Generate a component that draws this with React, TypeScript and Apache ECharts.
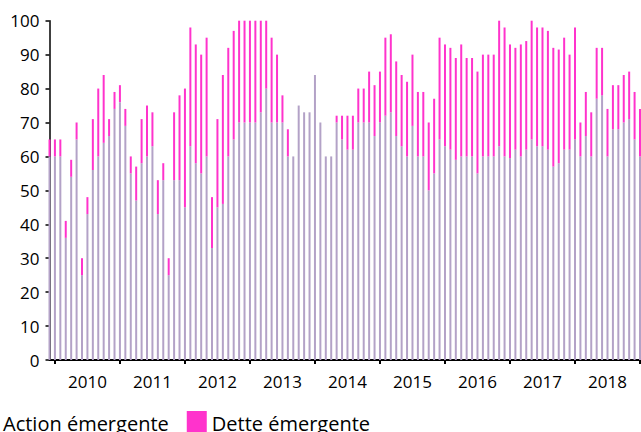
import React, { useEffect, useRef } from "react";
import * as echarts from "echarts";

// Monthly categories: Dec 2009 .. Jan 2019
const startYear = 2009;
const startMonth = 12;
const monthCount = 110;
const categories: string[] = [];
for (let i = 0; i < monthCount; i++) {
  const m0 = startMonth - 1 + i;
  const y = startYear + Math.floor(m0 / 12);
  const m = (m0 % 12) + 1;
  categories.push(`${y}-${m < 10 ? "0" + m : m}`);
}

const seriesNames = ["Action émergente", "Dette émergente"];

const actionEmergente = [
  60, 60, 60, 36, 54, 65, 25, 43, 56, 60, 64, 66, 74, 76, 69, 55, 47, 58,
  60, 63, 43, 53, 25, 53, 53, 45, 63, 58, 55, 60, 33, 45, 46, 60, 65, 70,
  70, 70, 70, 73, 80, 70, 70, 70, 60, 60, 75, 73, 73, 84, 70, 60, 60, 70,
  65, 62, 62, 70, 70, 70, 66, 70, 72, 73, 66, 63, 60, 69, 60, 60, 50, 55,
  65, 63, 62, 59, 60, 60, 60, 55, 60, 60, 60, 63, 60, 59.5, 62, 60, 62, 65,
  63, 63, 62, 57, 58, 62, 62, 65, 60, 66, 60, 77, 78, 60, 68, 68, 70, 71, 65, 60,
];

const detteEmergente = [
  5, 5, 5, 5, 5, 5, 5, 5, 15, 20, 20, 5, 5, 5, 5, 5, 10, 13,
  15, 10, 10, 5, 5, 20, 25, 35, 35, 35, 35, 35, 15, 26, 38, 32, 32, 30,
  30, 30, 30, 27, 20, 25, 20, 8, 8, 0, 0, 0, 0, 0, 0, 0, 0, 2,
  7, 10, 10, 10, 10, 15, 15, 15, 23, 23, 22, 21, 22, 21, 19, 19, 20, 22,
  30, 30, 30, 30, 33, 29, 29, 30, 30, 30, 30, 37, 38, 33.5, 30, 33, 32, 35,
  35, 35, 35, 35, 33.5, 33, 28, 33, 10, 13, 13, 15, 14, 14, 13, 13, 14, 14, 14, 14,
];

const yTicks = { min: 0, max: 100, interval: 10 };

const FONT = "'Open Sans', sans-serif";

export default function App() {
  const ref = useRef<HTMLDivElement>(null);
  useEffect(() => {
    if (!ref.current) return;
    const chart = echarts.init(ref.current, null, { renderer: "svg" });
    chart.setOption({
      animation: false,
      grid: { left: 49.5, right: 1, top: 20.7, bottom: 72, containLabel: false },
      legend: {
        data: seriesNames,
        left: -22,
        top: 411,
        padding: 0,
        itemWidth: 20,
        itemHeight: 24,
        itemGap: 18,
        icon: "rect",
        textStyle: { fontFamily: FONT, fontSize: 20, color: "#000", padding: [6, 0, 0, 0] },
      },
      xAxis: {
        type: "category",
        data: categories,
        boundaryGap: false,
        axisLine: { show: true, lineStyle: { color: "#000", width: 2 } },
        axisTick: {
          show: true,
          length: 4,
          interval: (index: number) => index % 12 === 1,
          lineStyle: { color: "#000", width: 2 },
        },
        axisLabel: {
          interval: (index: number) => index % 12 === 7,
          formatter: (v: string) => v.slice(0, 4),
          fontFamily: FONT,
          fontSize: 17,
          color: "#000",
          margin: 13,
        },
        splitLine: { show: false },
      },
      yAxis: {
        type: "value",
        min: yTicks.min,
        max: yTicks.max,
        interval: yTicks.interval,
        axisLine: { show: true, lineStyle: { color: "#000", width: 1.5 } },
        axisTick: { show: true, length: 4, lineStyle: { color: "#000", width: 1.5 } },
        axisLabel: { fontFamily: FONT, fontSize: 17, color: "#000", margin: 10 },
        splitLine: { show: false },
      },
      series: [
        {
          name: seriesNames[0],
          type: "bar",
          stack: "total",
          barWidth: 2,
          data: actionEmergente,
          itemStyle: { color: "#B3A2C7" },
        },
        {
          name: seriesNames[1],
          type: "bar",
          stack: "total",
          barWidth: 2,
          data: detteEmergente,
          itemStyle: { color: "#FF33CC" },
        },
      ],
    });
    return () => chart.dispose();
  }, []);
  return <div ref={ref} style={{ width: 641, height: 432, position: "absolute", left: 0, top: 0 }} />;
}
